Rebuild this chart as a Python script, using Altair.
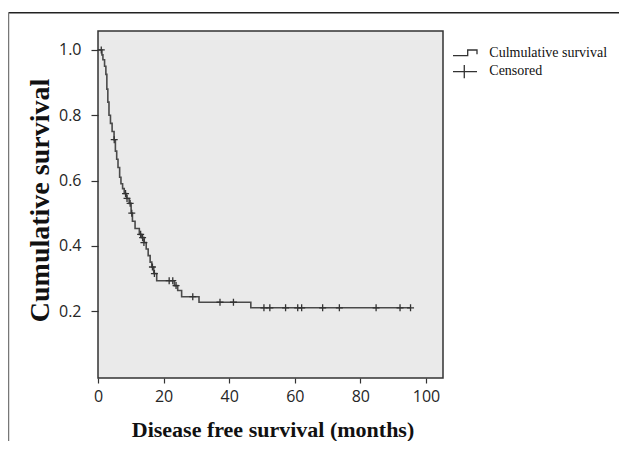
import altair as alt
import pandas as pd

# Kaplan-Meier step curve (months, cumulative survival)
step_time = [0, 1.2, 1.5, 2.0, 2.4, 2.7, 3.0, 3.35, 3.8, 4.3, 4.9, 5.3, 5.7, 6.1, 6.6, 7.0,
             7.5, 8.0, 8.7, 9.5, 10.1, 10.5, 11.3, 12.6, 13.3, 14.1, 14.7, 15.3, 15.9,
             16.4, 17.0, 17.9, 23.3, 24.3, 25.5, 30.8, 46.6, 95.3]
step_surv = [1.0, 0.985, 0.97, 0.95, 0.925, 0.88, 0.84, 0.80, 0.775, 0.75, 0.725, 0.69,
             0.665, 0.64, 0.61, 0.59, 0.575, 0.56, 0.545, 0.53, 0.50, 0.475, 0.453, 0.435,
             0.425, 0.41, 0.39, 0.37, 0.35, 0.335, 0.315, 0.293, 0.278, 0.263, 0.244,
             0.227, 0.210, 0.210]

# Censored observations
cens_time = [1.0, 4.95, 8.4, 8.85, 9.8, 10.3, 13.0, 13.6, 14.0, 16.6, 17.2, 21.7, 22.8,
             23.8, 28.9, 37.2, 41.3, 50.6, 52.4, 57.2, 60.9, 62.1, 68.5, 73.6, 84.8,
             92.1, 95.3]
cens_surv = [1.0, 0.725, 0.56, 0.545, 0.53, 0.50, 0.435, 0.425, 0.41, 0.335, 0.315,
             0.293, 0.293, 0.278, 0.244, 0.227, 0.227, 0.21, 0.21, 0.21, 0.21, 0.21,
             0.21, 0.21, 0.21, 0.21, 0.21]

x_ticks = [0, 20, 40, 60, 80, 100]
y_ticks = [0.2, 0.4, 0.6, 0.8, 1.0]
legend_labels = ["Culmulative survival", "Censored"]

curve = pd.DataFrame({"t": step_time, "s": step_surv})
cens = pd.DataFrame({"t": cens_time, "s": cens_surv})
one = pd.DataFrame({"a": [0]})

xs = alt.Scale(domain=[0, 105.2], nice=False, zero=False)
ys = alt.Scale(domain=[-0.005, 1.058], nice=False, zero=False)

x_axis = alt.Axis(values=x_ticks, title="Disease free survival (months)", grid=False,
                  domain=False, tickSize=5, tickColor="#333", tickWidth=1.2,
                  labelFont="Open Sans", labelFontSize=16, labelColor="#262626",
                  labelPadding=5, labelFlush=False,
                  titleFont="Liberation Serif", titleFontWeight="bold", titleFontSize=22,
                  titleColor="#111", titleX=174.5, titleY=58.7, titleBaseline="alphabetic",
                  titleAlign="center")
y_axis = alt.Axis(values=y_ticks, format=".1f", title="Cumulative survival", grid=False,
                  domain=False, tickSize=7, tickColor="#333", tickWidth=1.2,
                  labelFont="Open Sans", labelFontSize=16, labelColor="#262626",
                  labelPadding=10, labelFlush=False,
                  titleFont="Liberation Serif", titleFontWeight="bold", titleFontSize=28,
                  titleColor="#111", titleX=-49.5, titleY=169, titleBaseline="alphabetic",
                  titleAlign="center", titleAngle=270)

line = alt.Chart(curve).mark_line(interpolate="step-after", color="#4a4a4a",
                                  strokeWidth=1.6).encode(
    x=alt.X("t:Q", scale=xs, axis=x_axis),
    y=alt.Y("s:Q", scale=ys, axis=y_axis),
)

marks = alt.Chart(cens).mark_point(shape="M-1,0H1M0,-1V1", size=49, filled=False,
                                   color="#333", strokeWidth=1.3, opacity=1).encode(
    x=alt.X("t:Q", scale=xs),
    y=alt.Y("s:Q", scale=ys),
)

# outer figure frame
frame_top = alt.Chart(one).mark_rule(color="#222", strokeWidth=1.5).encode(
    x=alt.value(-89.5), x2=alt.value(525), y=alt.value(-18.3))
frame_left = alt.Chart(one).mark_rule(color="#777", strokeWidth=1.5).encode(
    x=alt.value(-89.5), y=alt.value(-18.3), y2=alt.value(420))

# legend
leg_step = alt.Chart(one).mark_point(shape="M-1,0.225H0.225V-0.25H1V0.11", size=576,
                                     filled=False, color="#333", strokeWidth=1.3,
                                     opacity=1).encode(
    x=alt.value(367), y=alt.value(22))
leg_plus = alt.Chart(one).mark_point(shape="M-1,0H1M-0.06,-0.55V0.55", size=576,
                                     filled=False, color="#333", strokeWidth=1.3,
                                     opacity=1).encode(
    x=alt.value(367), y=alt.value(40.7))
leg_t1 = alt.Chart(one).mark_text(text=legend_labels[0], align="left", baseline="alphabetic",
                                  font="Liberation Serif", fontSize=14, color="#111").encode(
    x=alt.value(391.3), y=alt.value(26.3))
leg_t2 = alt.Chart(one).mark_text(text=legend_labels[1], align="left", baseline="alphabetic",
                                  font="Liberation Serif", fontSize=14, color="#111").encode(
    x=alt.value(391.3), y=alt.value(44))

chart = alt.layer(frame_top, frame_left, line, marks, leg_step, leg_plus, leg_t1, leg_t2).properties(
    width=345, height=347,
    autosize=alt.AutoSizeParams(type="none"),
    padding={"left": 90, "top": 23, "right": 176, "bottom": 63},
    background="white",
).configure_view(fill="#eaeaea", stroke="#333", strokeWidth=1.5)

chart.save("out.html", embed_options={"renderer": "svg", "actions": False})
